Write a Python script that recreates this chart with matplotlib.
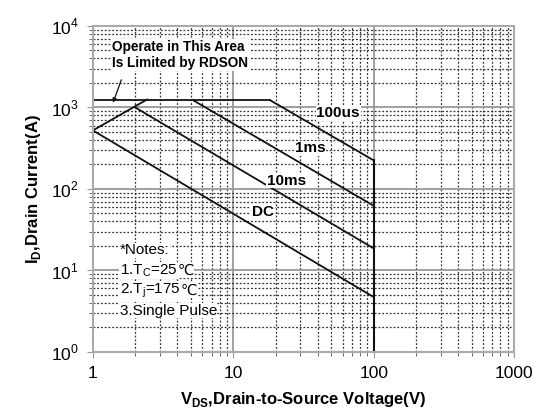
import matplotlib.pyplot as plt
import numpy as np

plt.rcParams['font.family'] = ['Liberation Sans', 'DejaVu Sans']
plt.rcParams['mathtext.fontset'] = 'custom'
plt.rcParams['mathtext.rm'] = 'Liberation Sans'
plt.rcParams['mathtext.bf'] = 'Liberation Sans:bold'

# SOA boundaries (V, A)
i_max = 1220
rdson_v = [1.0, 2.43]
rdson_i = [522, 1250]
limit_v = [1.0, 18.4]
limit_i = [i_max, i_max]

curve_names = ['100us', '1ms', '10ms', 'DC']
curve_v = [[18.4, 100], [5.2, 100], [2.0, 100], [1.0, 100]]
curve_i = [[i_max, 224], [i_max, 62], [1000, 18.6], [522, 4.7]]
label_pos = [(39.0, 850), (27.5, 314), (17.3, 126), (13.6, 52)]

notes = ['*Notes:', r'1.T$_\mathregular{C}$=25', r'2.T$_\mathregular{j}$=175', '3.Single Pulse']
notes_unit = ['', '\u2103', '\u2103', '']
notes_y = [17.6, 10.0, 5.7, 3.2]

fig = plt.figure(figsize=(5.40, 4.12), dpi=100)
ax = fig.add_axes([0.172, 0.146, 0.780, 0.791])
ax.set_xscale('log')
ax.set_yscale('log')
ax.set_xlim(1, 1000)
ax.set_ylim(1, 1e4)

ax.grid(which='major', color='#999999', linewidth=1.3, linestyle='-')
ax.grid(which='minor', color='#333333', linewidth=0.9, linestyle=(0, (1.5, 1.5)))
ax.set_axisbelow(True)

for sp in ax.spines.values():
    sp.set_color('#aaaaaa')
    sp.set_linewidth(1.5)

ax.tick_params(which='major', direction='out', length=4, color='#999999', labelsize=12.5, pad=6)
ax.tick_params(which='minor', direction='out', length=3, color='#555555')
ax.set_xticks([1, 10, 100, 1000])
ax.set_xticklabels(['1', '10', '100', '1000'])
ax.set_yticks([1, 10, 100, 1000, 10000])
ax.set_yticklabels([r'10$^\mathregular{%d}$' % k for k in range(5)])

lc = '#111111'
ax.plot(limit_v, limit_i, color=lc, lw=1.3)
ax.plot(rdson_v, rdson_i, color=lc, lw=1.3)
for v, i in zip(curve_v, curve_i):
    ax.plot(v, i, color=lc, lw=1.3)
ax.plot([100, 100], [1, 224], color=lc, lw=1.5)

for name, (x, y) in zip(curve_names, label_pos):
    ax.text(x, y, name, fontsize=11, fontweight='bold', ha='left', va='center',
            bbox=dict(facecolor='white', edgecolor='none', pad=0.5))

ax.text(1.37, 4400, 'Operate in This Area\nIs Limited by RDSON', fontsize=9.8,
        fontweight='bold', ha='left', va='center', linespacing=1.25,
        bbox=dict(facecolor='white', edgecolor='none', pad=0.5))
ax.annotate('', xy=(1.37, 1060), xytext=(1.62, 2350),
            arrowprops=dict(arrowstyle='-|>', color=lc, lw=0.9, mutation_scale=6))

for t, u, y in zip(notes, notes_unit, notes_y):
    txt = ax.text(1.55, y, t, fontsize=11, ha='left', va='center',
                  bbox=dict(facecolor='white', edgecolor='none', pad=0.3))
    if u:
        ax.annotate(u, xy=(1.0, 0.5), xycoords=txt, ha='left', va='center',
                    fontsize=10.5, family='DejaVu Sans',
                    bbox=dict(facecolor='white', edgecolor='none', pad=0.3))

ax.set_xlabel(r'V$_\mathregular{DS}$,Drain-to-Source Voltage(V)', fontsize=12, fontweight='bold', labelpad=7)
ax.set_ylabel(r'I$_\mathregular{D}$,Drain Current(A)', fontsize=12, fontweight='bold', labelpad=6)

fig.savefig('out.png', dpi=100)
